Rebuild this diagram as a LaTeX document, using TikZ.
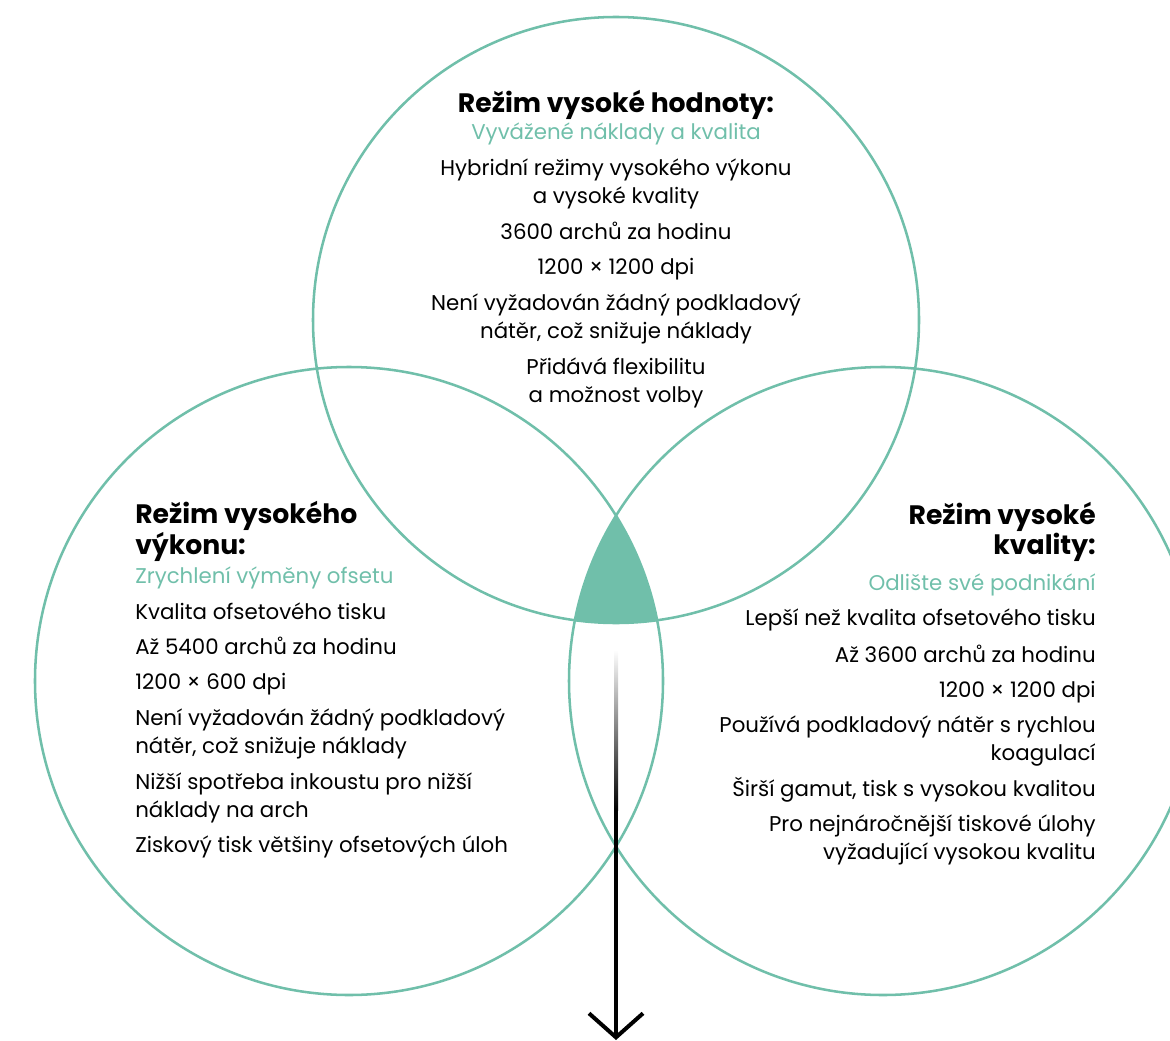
\documentclass[tikz,border=0pt]{standalone}
\usepackage{fontspec}
\setmainfont{Poppins}
\usepackage{tikz}
\usetikzlibrary{arrows.meta}
\usetikzlibrary{calc}
\definecolor{vteal}{RGB}{112,191,170}
\tikzstyle{ring}=[draw=vteal, line width=1.9pt]
\tikzstyle{txt}=[inner sep=0pt, font=\fontsize{16pt}{21pt}\selectfont]
\tikzstyle{head}=[inner sep=0pt, font=\fontsize{20pt}{21pt}\selectfont\bfseries]
\tikzstyle{sub}=[txt, text=vteal]

\begin{document}
\begin{tikzpicture}[x=0.75pt, y=-0.75pt]
        \useasboundingbox (0,0) rectangle (1170,1041);
        \coordinate (cTop) at (616, 320);
        \coordinate (cLeft) at (349, 681);
        \coordinate (cRight) at (883, 681);
        % shared part of all three
        \begin{scope}
            \clip (cLeft) circle (314);
            \clip (cRight) circle (314);
            \fill[vteal] (cTop) circle (303);
        \end{scope}
        \draw[ring] (cTop) circle (303);
        \draw[ring] (cLeft) circle (314);
        \draw[ring] (cRight) circle (314);
        % arrow
        \coordinate (shaft) at (616, 650);
        \coordinate (dark) at (616, 810);
        \coordinate (tip) at (616, 1040);
        \shade[top color=white, bottom color=black] ($(shaft)+(-2,0)$) rectangle ($(dark)+(2,0)$);
        \draw[line width=3pt, -{Straight Barb[length=18pt, width=40.5pt]}] (dark) -- (tip);
        % top (multi-line nodes sit on their last baseline)
        \node[head, anchor=base] (topHead) at (616, 113) {Režim vysoké hodnoty:};
        \node[sub, anchor=base] (topSub) at (616, 140) {Vyvážené náklady a kvalita};
        \foreach \y/\t [count=\i] in {204/{Hybridní režimy vysokého výkonu\\a vysoké kvality},
                239/{3600 archů za hodinu}, 275/{1200 × 1200 dpi},
                338/{Není vyžadován žádný podkladový\\nátěr, což snižuje náklady},
                402/{Přidává flexibilitu\\a možnost volby}}
            \node[txt, anchor=base, align=center] (topItem\i) at (616, \y) {\t};
        % left
        \node[head, anchor=base west, align=left] (leftHead) at (135, 554) {Režim vysokého\\výkonu:};
        \node[sub, anchor=base west] (leftSub) at (135, 583) {Zrychlení výměny ofsetu};
        \foreach \y/\t [count=\i] in {619/{Kvalita ofsetového tisku},
                654/{Až 5400 archů za hodinu}, 689/{1200 × 600 dpi},
                753/{Není vyžadován žádný podkladový\\nátěr, což snižuje náklady},
                817/{Nižší spotřeba inkoustu pro nižší\\náklady na arch},
                852/{Ziskový tisk většiny ofsetových úloh}}
            \node[txt, anchor=base west, align=left] (leftItem\i) at (135, \y) {\t};
        % right
        \node[head, anchor=base east, align=right] (rightHead) at (1096, 554) {Režim vysoké\\kvality:};
        \node[sub, anchor=base east] (rightSub) at (1096, 590) {Odlište své podnikání};
        \foreach \y/\t [count=\i] in {625/{Lepší než kvalita ofsetového tisku},
                662/{Až 3600 archů za hodinu}, 697/{1200 × 1200 dpi},
                760/{Používá podkladový nátěr s rychlou\\koagulací},
                796/{Širší gamut, tisk s vysokou kvalitou},
                859/{Pro nejnáročnější tiskové úlohy\\vyžadující vysokou kvalitu}}
            \node[txt, anchor=base east, align=right] (rightItem\i) at (1096, \y) {\t};
    \end{tikzpicture}
\end{document}
